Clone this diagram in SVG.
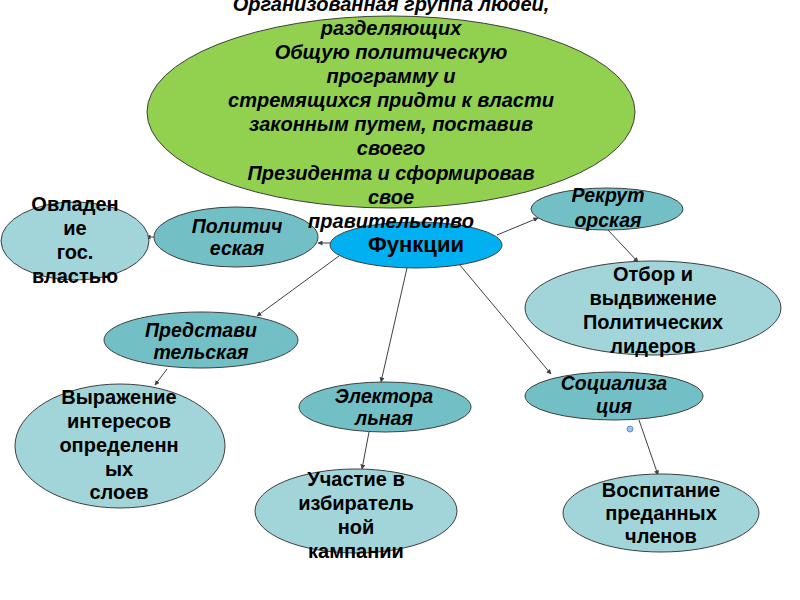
<svg xmlns="http://www.w3.org/2000/svg" width="800" height="600" viewBox="0 0 800 600">
<style>
.n{stroke:#3f3f3f;stroke-width:1}
.green{fill:#92d050}
.blue{fill:#00b0f0}
.teal{fill:#72bfc6}
.light{fill:#a2d5d9}
text{font-family:"Liberation Sans",Arial,sans-serif;font-weight:bold;fill:#000;text-anchor:middle}
.it{font-style:italic}
.c{stroke:#404040;stroke-width:1;fill:none;marker-end:url(#ah)}
</style>
<defs>
<marker id="ah" viewBox="0 0 10 10" refX="9" refY="5" markerWidth="5" markerHeight="5" orient="auto" markerUnits="userSpaceOnUse">
<path d="M0,0 L10,5 L0,10 z" fill="#404040"/>
</marker>
</defs>
<rect width="800" height="600" fill="#fff"/>
<g id="connectors">
<line class="c" x1="332" y1="243" x2="318" y2="243"/>
<line class="c" x1="154" y1="237" x2="146" y2="237"/>
<line class="c" x1="339" y1="256" x2="257" y2="316"/>
<line class="c" x1="167" y1="369" x2="155" y2="385"/>
<line class="c" x1="407" y1="268" x2="381" y2="382"/>
<line class="c" x1="369" y1="432" x2="362" y2="469"/>
<line class="c" x1="459" y1="264" x2="551" y2="374"/>
<line class="c" x1="639" y1="420" x2="658" y2="475"/>
<line class="c" x1="497" y1="235" x2="538" y2="218"/>
<line class="c" x1="608" y1="230" x2="638" y2="262"/>
</g>
<g id="functions">
<ellipse class="n blue" cx="416" cy="245" rx="86" ry="23"/>
<text font-size="22" x="416" y="252">Функции</text>
</g>
<g id="political">
<ellipse class="n teal" cx="236" cy="237" rx="82" ry="30"/>
<text class="it" font-size="19.5"><tspan x="237" y="233">Политич</tspan><tspan x="237" y="255">еская</tspan></text>
</g>
<g id="power">
<ellipse class="n light" cx="75" cy="241" rx="74" ry="39"/>
<text font-size="20"><tspan x="75" y="211">Овладен</tspan><tspan x="75" y="235">ие</tspan><tspan x="75" y="259">гос.</tspan><tspan x="75" y="283">властью</tspan></text>
</g>
<g id="representative">
<ellipse class="n teal" cx="201" cy="340" rx="97" ry="28"/>
<text class="it" font-size="19.5"><tspan x="201" y="337">Представи</tspan><tspan x="201" y="359">тельская</tspan></text>
</g>
<g id="interests">
<ellipse class="n light" cx="120" cy="446" rx="105" ry="62"/>
<text font-size="20"><tspan x="119" y="404">Выражение</tspan><tspan x="119" y="428">интересов</tspan><tspan x="119" y="452">определенн</tspan><tspan x="119" y="476">ых</tspan><tspan x="119" y="499">слоев</tspan></text>
</g>
<g id="electoral">
<ellipse class="n teal" cx="385" cy="407" rx="86" ry="25"/>
<text class="it" font-size="19.5"><tspan x="384" y="403">Электора</tspan><tspan x="384" y="425">льная</tspan></text>
</g>
<g id="campaign">
<ellipse class="n light" cx="356" cy="511" rx="101" ry="42"/>
<text font-size="20"><tspan x="356" y="486">Участие в</tspan><tspan x="356" y="510">избиратель</tspan><tspan x="356" y="534">ной</tspan><tspan x="356" y="558">кампании</tspan></text>
</g>
<g id="recruiting">
<ellipse class="n teal" cx="607" cy="209" rx="76" ry="21"/>
<text class="it" font-size="19.5"><tspan x="608" y="202">Рекрут</tspan><tspan x="608" y="227">орская</tspan></text>
</g>
<g id="leaders">
<ellipse class="n light" cx="653" cy="308" rx="128" ry="47"/>
<text font-size="20"><tspan x="653" y="281">Отбор и</tspan><tspan x="653" y="305">выдвижение</tspan><tspan x="653" y="329">Политических</tspan><tspan x="653" y="353">лидеров</tspan></text>
</g>
<g id="socialization">
<ellipse class="n teal" cx="614" cy="396" rx="89" ry="24"/>
<text class="it" font-size="19.5"><tspan x="614" y="390">Социализа</tspan><tspan x="614" y="413">ция</tspan></text>
</g>
<g id="members">
<ellipse class="n light" cx="661" cy="513" rx="98" ry="39"/>
<text font-size="20"><tspan x="661" y="497">Воспитание</tspan><tspan x="661" y="520">преданных</tspan><tspan x="661" y="543">членов</tspan></text>
</g>
<g id="definition">
<ellipse class="n green" cx="391" cy="112" rx="244" ry="96"/>
<text class="it" font-size="20"><tspan x="391" y="11">Организованная группа людей,</tspan><tspan x="391" y="35">разделяющих</tspan><tspan x="391" y="59">Общую политическую</tspan><tspan x="391" y="83">программу и</tspan><tspan x="391" y="107">стремящихся придти к власти</tspan><tspan x="391" y="131">законным путем, поставив</tspan><tspan x="391" y="155">своего</tspan><tspan x="391" y="180">Президента и сформировав</tspan><tspan x="391" y="204">свое</tspan><tspan x="391" y="228">правительство</tspan></text>
</g>
<circle cx="630" cy="429" r="3" fill="#9cc3f0" stroke="#4a7ebb" stroke-width="0.8"/>
</svg>
